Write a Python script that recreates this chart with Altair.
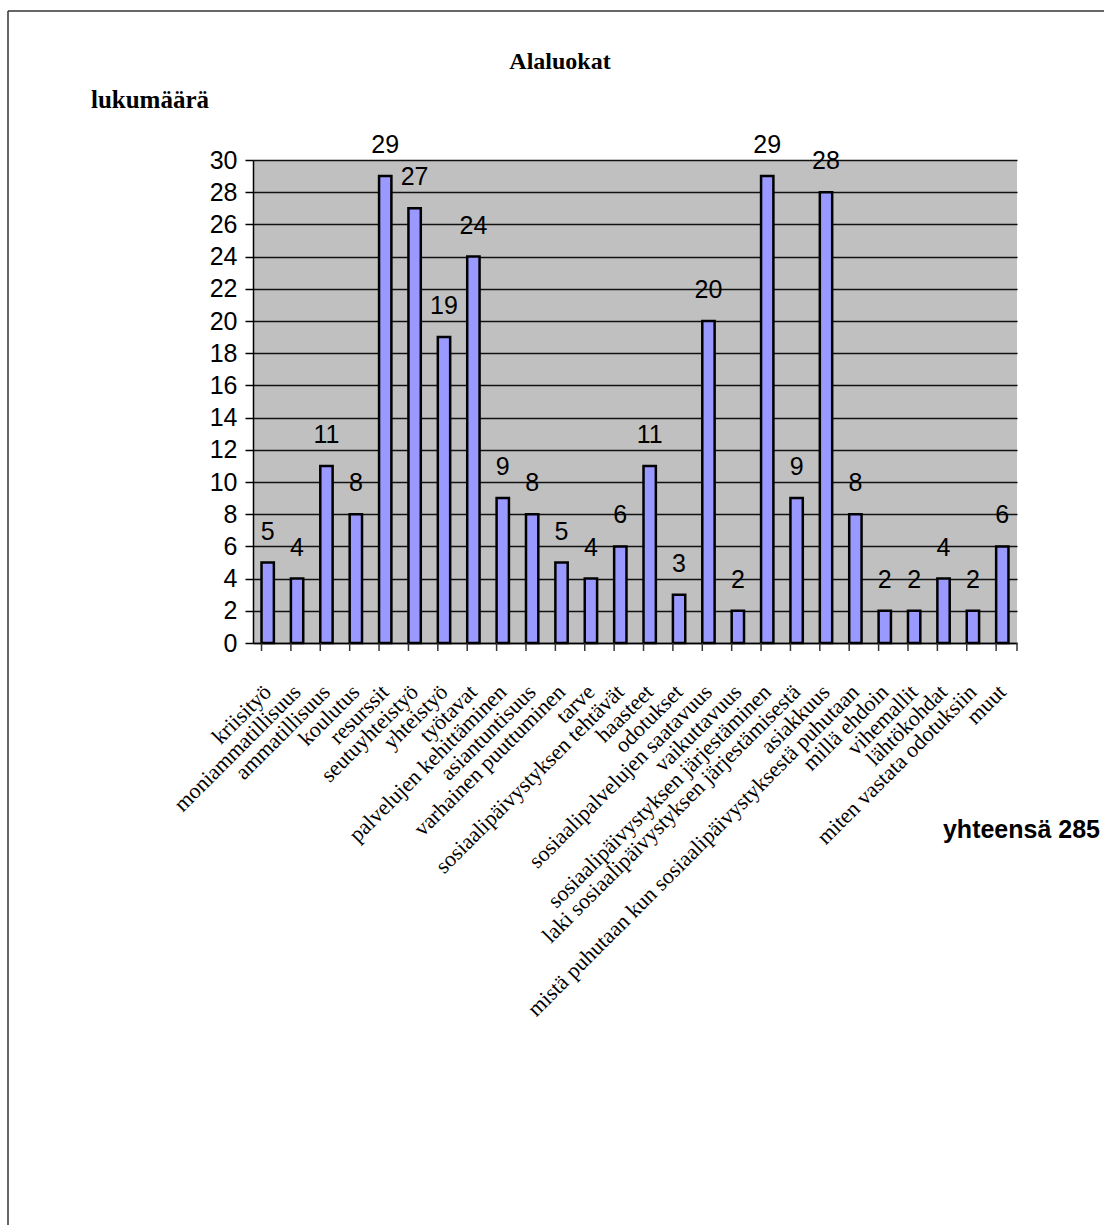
import altair as alt
import pandas as pd

categories = [
    "kriisityö", "moniammatillisuus", "ammatillisuus", "koulutus", "resurssit",
    "seutuyhteistyö", "yhteistyö", "työtavat", "palvelujen kehittäminen",
    "asiantuntisuus", "varhainen puuttuminen", "tarve",
    "sosiaalipäivystyksen tehtävät", "haasteet", "odotukset",
    "sosiaalipalvelujen saatavuus", "vaikuttavuus",
    "sosiaalipäivystyksen järjestäminen",
    "laki sosiaalipäivystyksen järjestämisestä", "asiakkuus",
    "mistä puhutaan kun sosiaalipäivystyksestä puhutaan", "millä ehdoin",
    "vihemallit", "lähtökohdat", "miten vastata odotuksiin", "muut",
]
values = [5, 4, 11, 8, 29, 27, 19, 24, 9, 8, 5, 4, 6, 11, 3, 20, 2, 29, 9, 28, 8, 2, 2, 4, 2, 6]
y_ticks = list(range(0, 31, 2))

title_text = "Alaluokat"
y_title = "lukumäärä"
total_text = "yhteensä 285"

df = pd.DataFrame({"cat": categories, "val": values})

W, H = 764, 483
PL, PT = 253, 160
TOTAL_W, TOTAL_H = 1104, 1225

xscale = alt.Scale(domain=categories, paddingInner=0.58, paddingOuter=0.29)
yscale = alt.Scale(domain=[0, 30], nice=False)

xaxis = alt.Axis(title=None, labelAngle=-45, labelAlign="right",
                 labelBaseline="middle", labelFont="Liberation Serif",
                 labelFontSize=22, labelColor="black", labelLimit=1000,
                 labelOverlap=False, labelPadding=45, ticks=False,
                 domain=True, domainColor="black", domainWidth=1.5,
                 grid=False)
yaxis = alt.Axis(title=None, values=y_ticks, labelFont="Liberation Sans",
                 labelFontSize=25, labelColor="black", labelPadding=8,
                 labelOverlap=False, labelFlush=False,
                 tickSize=8, tickColor="black", tickWidth=1.5,
                 domainColor="black", domainWidth=1.5,
                 grid=True, gridColor="#111111", gridWidth=1.3)

base = alt.Chart(df)

bars = base.mark_bar(color="#9999FF", stroke="black", strokeWidth=2.5).encode(
    x=alt.X("cat:N", sort=categories, scale=xscale, axis=xaxis),
    y=alt.Y("val:Q", scale=yscale, axis=yaxis),
)

xticks = base.mark_rule(color="#333333", strokeWidth=1.5).encode(
    x=alt.X("cat:N", sort=categories, scale=xscale, bandPosition=0, axis=xaxis),
    y=alt.value(H), y2=alt.value(H + 8),
)

labels = base.mark_text(font="Liberation Sans", fontSize=25, color="black",
                        baseline="middle", dy=-31).encode(
    x=alt.X("cat:N", sort=categories, scale=xscale, axis=xaxis),
    y=alt.Y("val:Q", scale=yscale, axis=yaxis),
    text="val:Q",
)

end_tick = alt.Chart(pd.DataFrame({"a": [0]})).mark_rule(color="#333333", strokeWidth=1.5).encode(
    x=alt.value(W), y=alt.value(H), y2=alt.value(H + 8))

title = alt.Chart(pd.DataFrame({"t": [title_text]})).mark_text(
    font="Liberation Serif", fontSize=24, fontWeight="bold", color="black",
    align="center", baseline="middle").encode(
    x=alt.value(560 - PL), y=alt.value(62 - PT), text="t:N")

ytitle = alt.Chart(pd.DataFrame({"t": [y_title]})).mark_text(
    font="Liberation Serif", fontSize=25, fontWeight="bold", color="black",
    align="center", baseline="middle").encode(
    x=alt.value(150 - PL), y=alt.value(100 - PT), text="t:N")

total = alt.Chart(pd.DataFrame({"t": [total_text]})).mark_text(
    font="Liberation Sans", fontSize=25, fontWeight="bold", color="black",
    align="right", baseline="middle").encode(
    x=alt.value(1100 - PL), y=alt.value(830 - PT), text="t:N")

frame_left = alt.Chart(pd.DataFrame({"a": [0]})).mark_rule(color="#333333", strokeWidth=1.5).encode(
    x=alt.value(8 - PL), y=alt.value(11 - PT), y2=alt.value(TOTAL_H - PT))
frame_top = alt.Chart(pd.DataFrame({"a": [0]})).mark_rule(color="#333333", strokeWidth=1.5).encode(
    x=alt.value(8 - PL), x2=alt.value(TOTAL_W - PL), y=alt.value(11 - PT))

chart = alt.layer(
    bars, xticks, labels, end_tick, title, ytitle, total, frame_left, frame_top
).properties(
    width=W, height=H,
    autosize=alt.AutoSizeParams(type="none"),
    padding={"left": PL, "top": PT, "right": TOTAL_W - PL - W, "bottom": TOTAL_H - PT - H},
    background="white",
).configure_view(fill="#C0C0C0", stroke=None)

chart.save("out.html", embed_options={"renderer": "svg", "actions": False})
